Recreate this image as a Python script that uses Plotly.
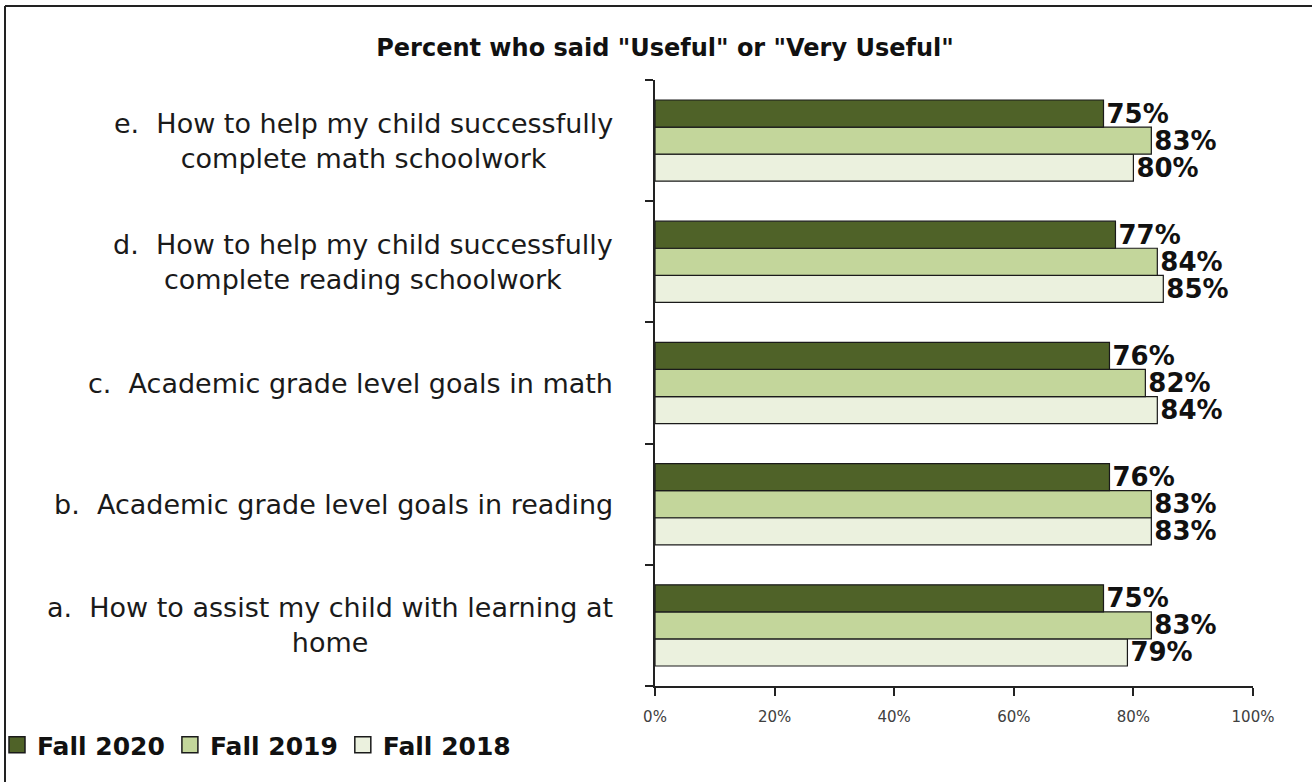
import plotly.graph_objects as go

# Survey items (bottom to top on the chart)
categories = [
    "a.  How to assist my child with learning at<br>home",
    "b.  Academic grade level goals in reading",
    "c.  Academic grade level goals in math",
    "d.  How to help my child successfully<br>complete reading schoolwork",
    "e.  How to help my child successfully<br>complete math schoolwork",
]
cat_keys = ["a", "b", "c", "d", "e"]

# Percent who said "Useful" or "Very Useful"
fall_2020 = [75, 76, 76, 77, 75]
fall_2019 = [83, 83, 82, 84, 83]
fall_2018 = [79, 83, 84, 85, 80]

x_ticks = [0, 20, 40, 60, 80, 100]
x_tick_labels = ["0%", "20%", "40%", "60%", "80%", "100%"]

series = [
    ("Fall 2018", fall_2018, "#ebf1de"),
    ("Fall 2019", fall_2019, "#c3d69b"),
    ("Fall 2020", fall_2020, "#4f6228"),
]

W, H = 1312, 782
ML, MR, MT, MB = 655, 59, 80, 96
PW, PH = W - ML - MR, H - MT - MB


def px_x(px):
    return (px - ML) / PW


def px_y(py):
    return (H - MB - py) / PH


fig = go.Figure()
for name, vals, color in series:
    fig.add_trace(go.Bar(
        y=cat_keys, x=vals, orientation="h", name=name,
        marker=dict(color=color, line=dict(color="#1a1a1a", width=1.2)),
        text=[f"{v}%" for v in vals], textposition="outside",
        textfont=dict(family="DejaVu Sans", size=26, color="#111111", weight="bold"),
        constraintext="none", cliponaxis=False, showlegend=False,
    ))

# Legend entries as square swatches
for name, vals, color in reversed(series):
    fig.add_trace(go.Scatter(
        x=[None], y=[None], mode="markers", name=name,
        marker=dict(symbol="square", size=16, color=color,
                    line=dict(color="#1a1a1a", width=1.5)),
    ))

# Category labels, right-aligned blocks with centred lines
for key, label in zip(cat_keys, categories):
    fig.add_annotation(
        x=px_x(615), xref="paper", y=key, yref="y",
        text=label, showarrow=False, xanchor="right", yanchor="middle",
        align="center", font=dict(family="DejaVu Sans", size=27, color="#1a1a1a"),
    )

# Frame: left and top edges
fig.add_shape(type="line", xref="paper", yref="paper",
              x0=px_x(5), x1=px_x(5), y0=px_y(782), y1=px_y(6),
              line=dict(color="#222222", width=2))
fig.add_shape(type="line", xref="paper", yref="paper",
              x0=px_x(5), x1=px_x(1312), y0=px_y(6), y1=px_y(6),
              line=dict(color="#222222", width=2))

fig.update_layout(
    width=W, height=H,
    margin=dict(l=ML, r=MR, t=MT, b=MB, autoexpand=False),
    paper_bgcolor="white", plot_bgcolor="white",
    barmode="group", bargap=0.33, bargroupgap=0,
    title=dict(text='Percent who said "Useful" or "Very Useful"',
               x=665 / W, xanchor="center", xref="container",
               y=1 - 48 / H, yanchor="middle", yref="container",
               font=dict(family="DejaVu Sans", size=24, color="#111111", weight="bold")),
    xaxis=dict(range=[0, 100], tickvals=x_ticks, ticktext=x_tick_labels,
               showgrid=False, zeroline=False, showline=True,
               linecolor="#222222", linewidth=1.5, ticks="outside",
               ticklen=8, tickcolor="#222222", tickwidth=1.5,
               ticklabelstandoff=8,
               tickfont=dict(family="DejaVu Sans", size=15, color="#404040")),
    yaxis=dict(categoryorder="array", categoryarray=cat_keys,
               showticklabels=False, showgrid=False, zeroline=False,
               showline=True, linecolor="#222222", linewidth=1.5,
               ticks="outside", tickson="boundaries", ticklen=8,
               tickcolor="#222222", tickwidth=1.5),
    legend=dict(orientation="h", x=px_x(-3), xanchor="left",
                y=px_y(745), yanchor="middle",
                font=dict(family="DejaVu Sans", size=25, color="#111111", weight="bold"),
                itemsizing="trace", traceorder="normal",
                bgcolor="rgba(0,0,0,0)", itemwidth=30),
    showlegend=True,
)

fig.write_html("out.html")
